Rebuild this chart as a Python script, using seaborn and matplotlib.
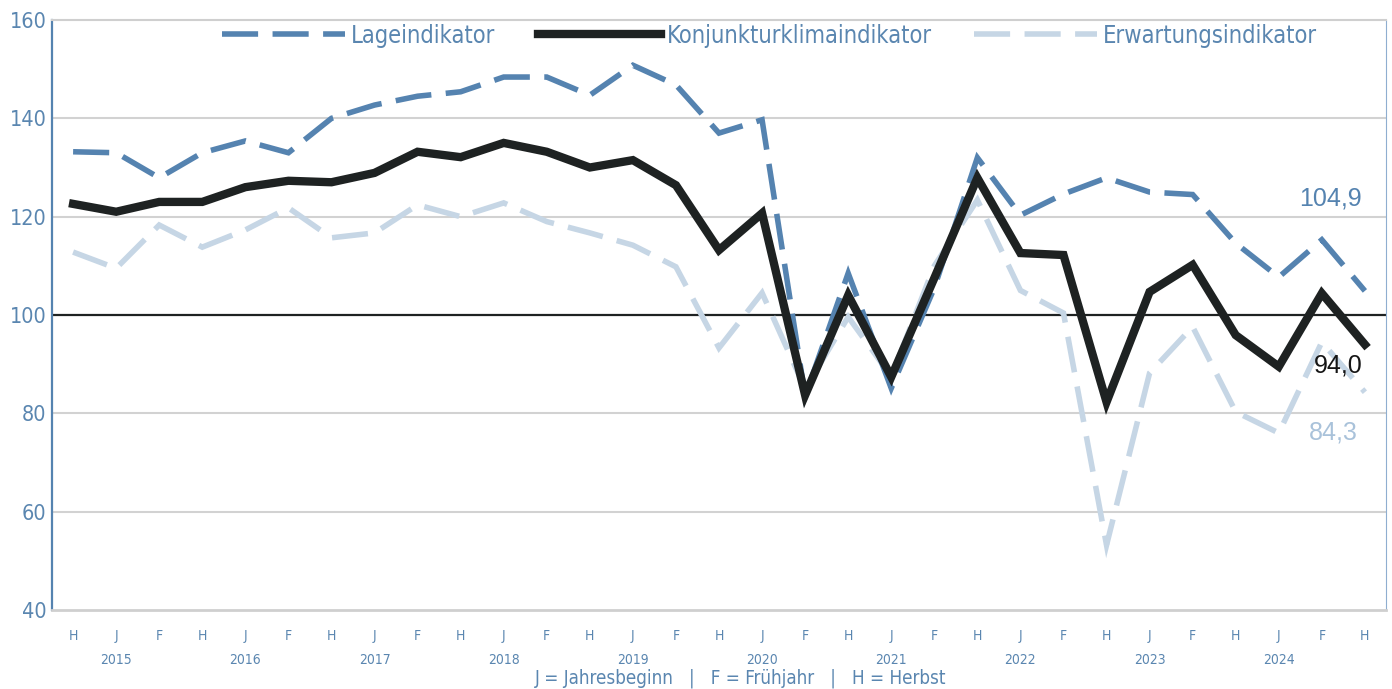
import matplotlib
matplotlib.use('Agg')
import matplotlib.pyplot as plt
import matplotlib.transforms as mtransforms
import seaborn as sns
import pandas as pd

# Halbjahre: H = Herbst, J = Jahresbeginn, F = Frühjahr (Herbst 2014 bis Herbst 2024)
periods = ['H', 'J', 'F'] * 10 + ['H']
years = ['2015', '2016', '2017', '2018', '2019', '2020', '2021', '2022', '2023', '2024']

lage = [133.2, 133.0, 127.9, 133.0, 135.4, 133.0, 140.0, 142.7, 144.5, 145.4,
        148.4, 148.4, 144.7, 150.8, 146.8, 137.0, 139.7, 83.5, 108.5, 85.1,
        105.5, 132.0, 120.3, 124.6, 127.9, 125.0, 124.5, 114.6, 107.7, 115.3,
        104.9]
konjunktur = [122.6, 121.0, 123.0, 123.0, 126.0, 127.3, 127.0, 128.9, 133.2, 132.1,
              135.0, 133.2, 130.0, 131.5, 126.4, 113.2, 120.7, 83.7, 104.0, 87.4,
              107.5, 127.9, 112.6, 112.2, 82.3, 104.7, 110.2, 95.9, 89.5, 104.4,
              94.0]
erwartung = [112.8, 109.5, 118.3, 113.8, 117.3, 121.8, 115.7, 116.7, 122.4, 120.0,
             122.8, 119.0, 116.7, 114.2, 109.8, 93.3, 104.5, 85.0, 99.6, 87.5,
             110.0, 123.4, 105.0, 100.4, 53.2, 88.2, 97.6, 80.3, 76.0, 94.5,
             84.3]

C_LAGE = '#5583B0'
C_KONJ = '#1E2222'
C_ERW = '#C6D6E5'
C_TXT = '#5A86B0'

plt.rcParams['font.family'] = ['DejaVu Sans']
plt.rcParams['font.stretch'] = 'condensed'

x = list(range(len(periods)))
df = pd.DataFrame({'t': x, 'Lageindikator': lage,
                   'Konjunkturklimaindikator': konjunktur,
                   'Erwartungsindikator': erwartung})

fig = plt.figure(figsize=(13.92, 6.89), dpi=100)
ax = fig.add_axes([52 / 1392, 1 - 610 / 689, 1334 / 1392, 590 / 689])

for y in [60, 80, 120, 140]:
    ax.axhline(y, color='#D2D2D2', lw=1.5, zorder=0)
ax.axhline(100, color='#1E2222', lw=1.6, zorder=1)

sns.lineplot(data=df, x='t', y='Erwartungsindikator', color=C_ERW, lw=4.0,
             ax=ax, label='Erwartungsindikator', zorder=2)
sns.lineplot(data=df, x='t', y='Lageindikator', color=C_LAGE, lw=4.0,
             ax=ax, label='Lageindikator', zorder=3)
sns.lineplot(data=df, x='t', y='Konjunkturklimaindikator', color=C_KONJ, lw=6.0,
             ax=ax, label='Konjunkturklimaindikator', zorder=4)

lines = ax.get_lines()
for ln in lines:
    ln.set_solid_joinstyle('miter')
    ln.set_dash_joinstyle('miter')
    ln.set_dash_capstyle('butt')
erw_line, lage_line, konj_line = lines[-3], lines[-2], lines[-1]
erw_line.set_dashes((6.5, 2.6))
lage_line.set_dashes((6.5, 2.6))

ax.set_xlim(-0.49, 30.49)
ax.set_ylim(40, 160)
ax.set_yticks([40, 60, 80, 100, 120, 140, 160])
ax.set_yticklabels(['40', '60', '80', '100', '120', '140', '160'])
ax.set_xticks(x)
ax.set_xticklabels(periods)
ax.tick_params(axis='x', length=0, pad=14, labelsize=10, labelcolor=C_TXT)
ax.tick_params(axis='y', length=0, pad=4, labelsize=15.5, labelcolor=C_TXT)
ax.set_xlabel('')
ax.set_ylabel('')

for s in ['top', 'bottom', 'right']:
    ax.spines[s].set_color('#CFCFCF')
ax.spines['top'].set_linewidth(1.5)
ax.spines['bottom'].set_linewidth(2.0)
ax.spines['right'].set_color('#8FAED0')
ax.spines['left'].set_color(C_LAGE)
ax.spines['left'].set_linewidth(1.6)

trans = mtransforms.blended_transform_factory(ax.transData, ax.transAxes)
for i, yr in enumerate(years):
    ax.text(1 + 3 * i, -50 / 590, yr, transform=trans, ha='center', va='center',
            fontsize=10, color=C_TXT)

fig.text(741 / 1392, 1 - 678 / 689,
         'J = Jahresbeginn   |   F = Frühjahr   |   H = Herbst',
         ha='center', va='center', fontsize=13.5, color=C_TXT)

# Endwerte
VAL = ['Liberation Sans', 'DejaVu Sans']
ax.text(29.2, 123.6, '104,9', ha='center', va='center', fontsize=18,
        color=C_LAGE, family=VAL, stretch='normal')
ax.text(29.37, 89.8, '94,0', ha='center', va='center', fontsize=18,
        color='#151515', family=VAL, stretch='normal')
ax.text(29.26, 76.2, '84,3', ha='center', va='center', fontsize=18,
        color='#A9C2DA', family=VAL, stretch='normal')

handles = [lage_line, konj_line, erw_line]
leg = ax.legend(handles=handles,
                labels=['Lageindikator', 'Konjunkturklimaindikator', 'Erwartungsindikator'],
                loc='upper center', bbox_to_anchor=(0.538, 1.03), ncol=3,
                frameon=False, fontsize=17, handlelength=5.2, handletextpad=0.25,
                columnspacing=1.8)
for t in leg.get_texts():
    t.set_color(C_TXT)

fig.savefig('out.png', dpi=100)
